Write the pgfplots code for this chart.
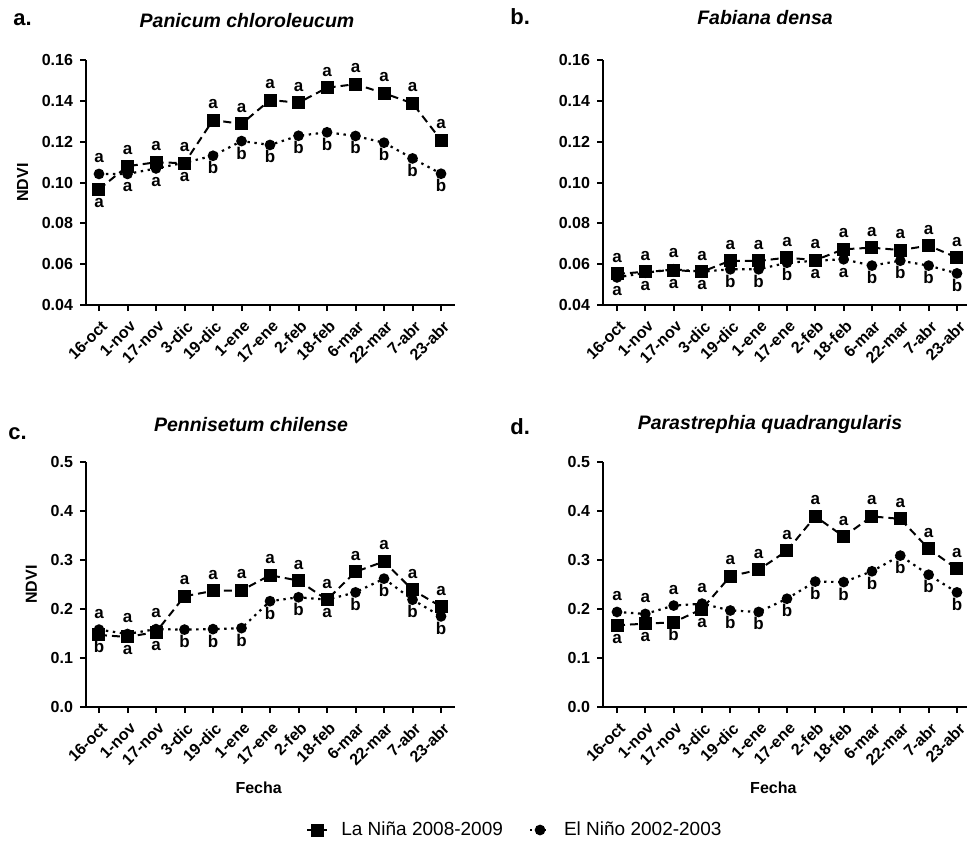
\documentclass[border=0pt]{standalone}
\usepackage{fontspec}
\setmainfont{Liberation Sans}
\usepackage{pgfplots}
\usepackage{pgfplotstable}
\pgfplotsset{compat=1.18}

\pgfplotstableread{
x L E t b
0 0.0967 0.1042 a a
1 0.1080 0.1042 a a
2 0.1099 0.1069 a a
3 0.1095 0.1097 a a
4 0.1306 0.1131 a b
5 0.1287 0.1203 a b
6 0.1404 0.1184 a b
7 0.1391 0.1229 a b
8 0.1464 0.1246 a b
9 0.1482 0.1228 a b
10 0.1437 0.1195 a b
11 0.1388 0.1118 a b
12 0.1208 0.1043 a b
}\dataA

\pgfplotstableread{
x L E t b
0 0.0552 0.0535 a a
1 0.0563 0.0558 a a
2 0.0571 0.0575 a a
3 0.0563 0.0563 a a
4 0.0617 0.0575 a b
5 0.0616 0.0575 a b
6 0.0632 0.0607 a b
7 0.0620 0.0617 a a
8 0.0673 0.0624 a a
9 0.0681 0.0593 a b
10 0.0669 0.0617 a b
11 0.0691 0.0593 a b
12 0.0632 0.0555 a b
}\dataB

\pgfplotstableread{
x L E t b
0 0.147 0.158 a b
1 0.143 0.149 a a
2 0.153 0.159 a a
3 0.226 0.158 a b
4 0.237 0.159 a b
5 0.238 0.161 a b
6 0.269 0.216 a b
7 0.258 0.224 a b
8 0.219 0.219 a a
9 0.276 0.234 a b
10 0.297 0.262 a b
11 0.239 0.219 a b
12 0.205 0.185 a b
}\dataC

\pgfplotstableread{
x L E t b
0 0.167 0.194 a a
1 0.170 0.190 a a
2 0.173 0.207 a b
3 0.200 0.211 a a
4 0.267 0.197 a b
5 0.280 0.194 a b
6 0.319 0.221 a b
7 0.389 0.256 a b
8 0.348 0.255 a b
9 0.389 0.277 a b
10 0.384 0.309 a b
11 0.323 0.270 a b
12 0.282 0.234 a b
}\dataD

\pgfplotsset{
  panel/.style={
    scale only axis, height=122.5pt, anchor=south west, clip=false,
    axis x line=bottom, axis y line=left,
    axis line style={-, line width=1pt, black},
    tick style={line width=1pt, black},
    major tick length=3pt, tick align=outside,
    xtick={0,...,12},
    xticklabels={16-oct,1-nov,17-nov,3-dic,19-dic,1-ene,17-ene,2-feb,18-feb,6-mar,22-mar,7-abr,23-abr},
    xticklabel style={xshift=3.5pt, yshift=-5.5pt, rotate=45, anchor=east, inner sep=1pt, font=\bfseries\fontsize{8}{9}\selectfont},
    yticklabel style={font=\bfseries\fontsize{8}{9}\selectfont},
    /pgf/number format/assume math mode=true,
    ylabel style={font=\bfseries\fontsize{8}{9}\selectfont},
    xlabel style={font=\bfseries\fontsize{8}{9}\selectfont, at={(axis description cs:0.468,-0.331)}, anchor=center},
  },
  left panel/.style={width=184.5pt, xmin=-0.456, xmax=12.49},
  right panel/.style={width=182pt, xmin=-0.494, xmax=12.355},
  small y/.style={ymin=0.04, ymax=0.16, ytick={0.04,0.06,0.08,0.10,0.12,0.14,0.16},
    yticklabel style={/pgf/number format/.cd, fixed, fixed zerofill, precision=2}},
  big y/.style={ymin=0, ymax=0.5, ytick={0,0.1,0.2,0.3,0.4,0.5},
    yticklabel style={/pgf/number format/.cd, fixed, fixed zerofill, precision=1}},
  nina/.style={black, line width=1pt, dash pattern=on 4pt off 2.5pt, mark=square*, mark size=2.75pt, mark options={solid}},
  nino/.style={black, line width=1.1pt, dash pattern=on 1.2pt off 2.3pt, mark=*, mark size=2.1pt, mark options={solid}},
  lettop/.style={draw=none, mark=none, forget plot, nodes near coords, point meta=explicit symbolic,
    every node near coord/.append style={anchor=base, yshift=5.75pt, black, inner sep=0pt, font=\bfseries\fontsize{8.5}{9}\selectfont}},
  letbot/.style={draw=none, mark=none, forget plot, nodes near coords, point meta=explicit symbolic,
    every node near coord/.append style={anchor=base, yshift=-9pt, black, inner sep=0pt, font=\bfseries\fontsize{8.5}{9}\selectfont}},
}

\begin{document}
\begin{tikzpicture}
\path[use as bounding box] (0,0) rectangle (483.5pt,-421.5pt);

% panel a
\begin{axis}[panel, left panel, small y, at={(43pt,-152.5pt)}, ylabel={NDVI}]
\addplot[nina] table[x=x,y=L]{\dataA};
\addplot[nino] table[x=x,y=E]{\dataA};
\addplot[lettop] table[x=x, y expr={max(\thisrow{L},\thisrow{E})}, meta=t]{\dataA};
\addplot[letbot] table[x=x, y expr={min(\thisrow{L},\thisrow{E})}, meta=b]{\dataA};
\end{axis}

% panel b
\begin{axis}[panel, right panel, small y, at={(301.5pt,-152.5pt)}]
\addplot[nina] table[x=x,y=L]{\dataB};
\addplot[nino] table[x=x,y=E]{\dataB};
\addplot[lettop] table[x=x, y expr={max(\thisrow{L},\thisrow{E})}, meta=t]{\dataB};
\addplot[letbot] table[x=x, y expr={min(\thisrow{L},\thisrow{E})}, meta=b]{\dataB};
\end{axis}

% panel c
\begin{axis}[panel, left panel, big y, at={(43pt,-353.5pt)}, ylabel={NDVI}, xlabel={Fecha},
  legend style={at={(axis description cs:1.165,-0.502)}, anchor=center, legend columns=2, draw=none, fill=none,
    font=\fontsize{9.5}{10.5}\selectfont, /tikz/every even column/.append style={column sep=11pt}},
  legend image code/.code={\draw[mark repeat=2, mark phase=2, #1] plot coordinates {(0pt,0pt) (5pt,0pt) (10pt,0pt)}; \path[draw=none, fill=none] (15pt,0pt);}]
\addplot[nina] table[x=x,y=L]{\dataC};
\addlegendentry{La Niña 2008-2009}
\addplot[nino] table[x=x,y=E]{\dataC};
\addlegendentry{El Niño 2002-2003}
\addplot[lettop] table[x=x, y expr={max(\thisrow{L},\thisrow{E})}, meta=t]{\dataC};
\addplot[letbot] table[x=x, y expr={min(\thisrow{L},\thisrow{E})}, meta=b]{\dataC};
\end{axis}

% panel d
\begin{axis}[panel, right panel, big y, at={(301.5pt,-353.5pt)}, xlabel={Fecha}]
\addplot[nina] table[x=x,y=L]{\dataD};
\addplot[nino] table[x=x,y=E]{\dataD};
\addplot[lettop] table[x=x, y expr={max(\thisrow{L},\thisrow{E})}, meta=t]{\dataD};
\addplot[letbot] table[x=x, y expr={min(\thisrow{L},\thisrow{E})}, meta=b]{\dataD};
\end{axis}

% titles
\node[anchor=base, font=\bfseries\itshape\fontsize{9.75}{11}\selectfont] at (123.5pt,-13.5pt) {Panicum chloroleucum};
\node[anchor=base, font=\bfseries\itshape\fontsize{9.75}{11}\selectfont] at (382.5pt,-12pt) {Fabiana densa};
\node[anchor=base, font=\bfseries\itshape\fontsize{9.75}{11}\selectfont] at (125.5pt,-215.5pt) {Pennisetum chilense};
\node[anchor=base, font=\bfseries\itshape\fontsize{9.75}{11}\selectfont] at (385pt,-214.5pt) {Parastrephia quadrangularis};
% panel letters
\node[anchor=base west, inner sep=0pt, font=\bfseries\fontsize{11}{12}\selectfont] at (6.5pt,-12.5pt) {a.};
\node[anchor=base west, inner sep=0pt, font=\bfseries\fontsize{11}{12}\selectfont] at (255pt,-12pt) {b.};
\node[anchor=base west, inner sep=0pt, font=\bfseries\fontsize{11}{12}\selectfont] at (4pt,-219.5pt) {c.};
\node[anchor=base west, inner sep=0pt, font=\bfseries\fontsize{11}{12}\selectfont] at (255pt,-217pt) {d.};
\end{tikzpicture}
\end{document}
